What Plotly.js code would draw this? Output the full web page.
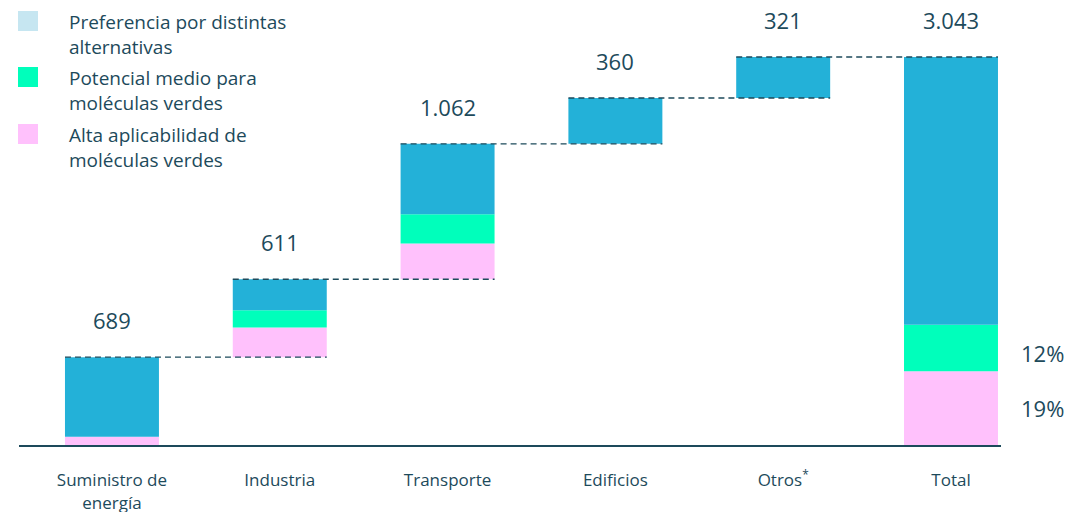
<!DOCTYPE html>
<html>
<head>
<meta charset="utf-8">
<script src="https://cdn.plot.ly/plotly-3.0.1.min.js"></script>
<style>html,body{margin:0;padding:0;background:#fff}#chart{width:1068px;height:512px}</style>
</head>
<body>
<div id="chart"></div>
<script>
// ---- data ----
const categories = ['Suministro de<br>energía', 'Industria', 'Transporte', 'Edificios', 'Otros<sup>*</sup>', 'Total'];
const sectorValues = [689, 611, 1062, 360, 321];
const valueLabels = ['689', '611', '1.062', '360', '321', '3.043'];
const altaAplicabilidad = [65, 233, 280, 0, 0];      // pink
const potencialMedio = [0, 135, 230, 0, 0];          // green
const preferencia = [624, 243, 552, 360, 321];       // blue
const percentLabels = ['12%', '19%'];
const legendLabels = [
  'Preferencia por distintas<br>alternativas',
  'Potencial medio para<br>moléculas verdes',
  'Alta aplicabilidad de<br>moléculas verdes'
];

// ---- derived ----
const sum = a => a.reduce((s, v) => s + v, 0);
const pinkAll = altaAplicabilidad.concat([sum(altaAplicabilidad)]);
const greenAll = potencialMedio.concat([sum(potencialMedio)]);
const blueAll = preferencia.concat([sum(preferencia)]);
const offsets = [];
let acc = 0;
sectorValues.forEach(v => { offsets.push(acc); acc += v; });
offsets.push(0);
const tops = offsets.map((o, i) => i < 5 ? o + sectorValues[i] : acc);
const xs = categories.map((c, i) => i);

const C_BLUE = '#23b1d8', C_GREEN = '#00ffbb', C_PINK = '#ffc1fc', C_LEG_BLUE = '#c6e6f1';
const TXT = '#1d4a5b';
const FONT = '"Open Sans", "Noto Sans", sans-serif';
const BW = 0.56;

const traces = [
  {type: 'bar', x: xs, y: pinkAll, base: offsets, marker: {color: C_PINK}, width: BW, hoverinfo: 'skip'},
  {type: 'bar', x: xs, y: greenAll, base: offsets.map((o, i) => o + pinkAll[i]), marker: {color: C_GREEN}, width: BW, hoverinfo: 'skip'},
  {type: 'bar', x: xs, y: blueAll, base: offsets.map((o, i) => o + pinkAll[i] + greenAll[i]), marker: {color: C_BLUE}, width: BW, hoverinfo: 'skip'}
];

const L = 19, R = 67, T = 10, B = 67;
const W = 1068, H = 512;
const pw = W - L - R, ph = H - T - B;
const px = v => (v - L) / pw;
const py = v => (H - B - v) / ph;
const yMax = acc / ((H - B - 57) / ph);
const pyData = v => v / yMax;

const shapes = [];
for (let i = 0; i < 5; i++) {
  shapes.push({type: 'line', xref: 'x', yref: 'y', x0: i - BW / 2, x1: i + 1 + BW / 2, y0: tops[i], y1: tops[i],
    line: {color: TXT, width: 1.4, dash: '6px,4px'}});
}
const legColors = [C_LEG_BLUE, C_GREEN, C_PINK];
const legTops = [11, 67, 124];
const annotations = [];
legColors.forEach((c, i) => {
  shapes.push({type: 'rect', xref: 'paper', yref: 'paper', x0: px(18), x1: px(38), y0: py(legTops[i] + 20), y1: py(legTops[i]),
    fillcolor: c, line: {width: 0}});
  annotations.push({xref: 'paper', yref: 'paper', x: px(67), y: py(legTops[i] + 23), xanchor: 'left', yanchor: 'middle',
    align: 'left', showarrow: false, text: legendLabels[i], font: {family: FONT, size: 19, color: TXT}});
});
valueLabels.forEach((t, i) => {
  annotations.push({xref: 'x', yref: 'y', x: i, y: tops[i], yanchor: 'bottom', yshift: 20, showarrow: false,
    text: t, font: {family: FONT, size: 22, color: TXT}});
});
const totPink = pinkAll[5], totGreen = greenAll[5];
annotations.push({xref: 'paper', yref: 'paper', x: px(1019), y: pyData(totPink + totGreen / 2), xanchor: 'left', yanchor: 'middle', yshift: -5,
  showarrow: false, text: percentLabels[0], font: {family: FONT, size: 22, color: TXT}});
annotations.push({xref: 'paper', yref: 'paper', x: px(1019), y: pyData(totPink / 2), xanchor: 'left', yanchor: 'middle',
  showarrow: false, text: percentLabels[1], font: {family: FONT, size: 22, color: TXT}});

const layout = {
  width: W, height: H,
  margin: {l: L, r: R, t: T, b: B, pad: 0},
  paper_bgcolor: '#fff', plot_bgcolor: '#fff',
  barmode: 'overlay',
  showlegend: false,
  xaxis: {
    range: [-0.554, 5.298], tickmode: 'array', tickvals: xs, ticktext: categories,
    showline: true, linecolor: TXT, linewidth: 2, showgrid: false, zeroline: false,
    ticks: '', ticklabelstandoff: 19, tickfont: {family: FONT, size: 17, color: TXT}, fixedrange: true
  },
  yaxis: {range: [0, yMax], visible: false, showgrid: false, zeroline: false, fixedrange: true},
  shapes: shapes,
  annotations: annotations,
  font: {family: FONT, color: TXT}
};

Plotly.newPlot('chart', traces, layout, {displayModeBar: false, staticPlot: true});
</script>
</body>
</html>
